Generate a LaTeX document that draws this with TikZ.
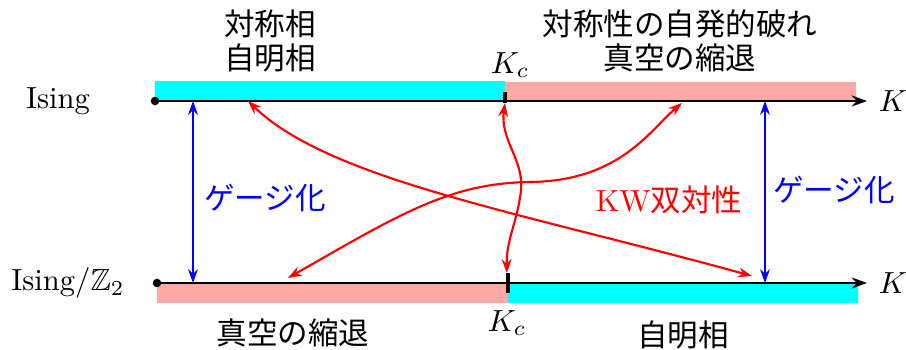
\documentclass[tikz,border=0pt]{standalone}
\usepackage{amssymb}
\usepackage{fontspec}
\newfontfamily\jpfont{Noto Sans CJK JP}
\usepackage{tikz}
\usetikzlibrary{arrows.meta}
\definecolor{pinkbar}{RGB}{255,168,168}
\definecolor{cyanbar}{RGB}{0,255,255}

\begin{document}
\begin{tikzpicture}[x=0.0115cm,y=0.0115cm,
  axisline/.style={thick,-{Stealth[length=5pt,width=3.6pt]}},
  kctick/.style={line width=1.3pt},
  gauge/.style={blue,line width=0.7pt,{Stealth[length=4.5pt,width=3.2pt]}-{Stealth[length=4.5pt,width=3.2pt]}},
  kw/.style={red,line width=0.7pt,{Stealth[length=4.5pt,width=3.2pt]}-{Stealth[length=4.5pt,width=3.2pt]}},
  jp/.style={font=\jpfont}]
  \useasboundingbox (0,0) rectangle (906,349);

  % Top: Ising
  \fill[cyanbar] (155,248) rectangle (505,268);
  \fill[pinkbar] (505,248) rectangle (856,267);
  \coordinate (top0) at (155,248);
  \coordinate (topK) at (867,248);
  \draw[axisline] (top0) -- (topK);
  \fill (top0) circle (1.4pt);
  \draw[kctick] (505,246) -- (505,257);
  \node (ising) at (58,248) {Ising};
  \node (ktop) at (893,248) {$K$};
  \node (kctop) at (510,284) {$K_c$};
  \node[jp,align=center] (trivtop) at (270,308) {対称相\\[-1pt]自明相};
  \node[jp,align=center] (ssbtop) at (680,308) {対称性の自発的破れ\\[-1pt]真空の縮退};

  % Bottom: Ising/Z2
  \fill[pinkbar] (157,46) rectangle (508,66);
  \fill[cyanbar] (508,46) rectangle (858,66);
  \coordinate (bot0) at (157,66);
  \coordinate (botK) at (867,66);
  \draw[axisline] (bot0) -- (botK);
  \fill (bot0) circle (1.4pt);
  \draw[kctick] (508,56) -- (508,76);
  \node (isingz) at (68,66) {Ising$/\mathbb{Z}_2$};
  \node (kbot) at (893,66) {$K$};
  \node (kcbot) at (507,26) {$K_c$};
  \node[jp] (ssbbot) at (293,16) {真空の縮退};
  \node[jp] (trivbot) at (683,14) {自明相};

  % gauging
  \coordinate (gl1) at (193,248);
  \coordinate (gl2) at (193,66);
  \coordinate (gr1) at (765,248);
  \coordinate (gr2) at (765,66);
  \draw[gauge] (gl1) -- (gl2);
  \draw[gauge] (gr1) -- (gr2);
  \node[jp,blue] (gaugel) at (265,151) {ゲージ化};
  \node[jp,blue] (gauger) at (834,159) {ゲージ化};

  % KW duality
  \coordinate (a1) at (248,248);
  \coordinate (a2) at (752,73);
  \coordinate (b1) at (288,71);
  \coordinate (b2) at (682,246);
  \coordinate (c1) at (505,246);
  \coordinate (c2) at (507,76);
  \draw[kw] (a1) .. controls (330,169) and (520,137) .. (a2);
  \draw[kw] (b1) .. controls (400,135) and (450,166) .. (530,167)
    .. controls (620,168) and (650,219) .. (b2);
  \draw[kw] (c1) .. controls (500,209) and (524,189) .. (521,159)
    .. controls (518,129) and (506,109) .. (c2);
  \node[red] (kwl) at (669,149) {KW{\jpfont 双対性}};
\end{tikzpicture}
\end{document}
